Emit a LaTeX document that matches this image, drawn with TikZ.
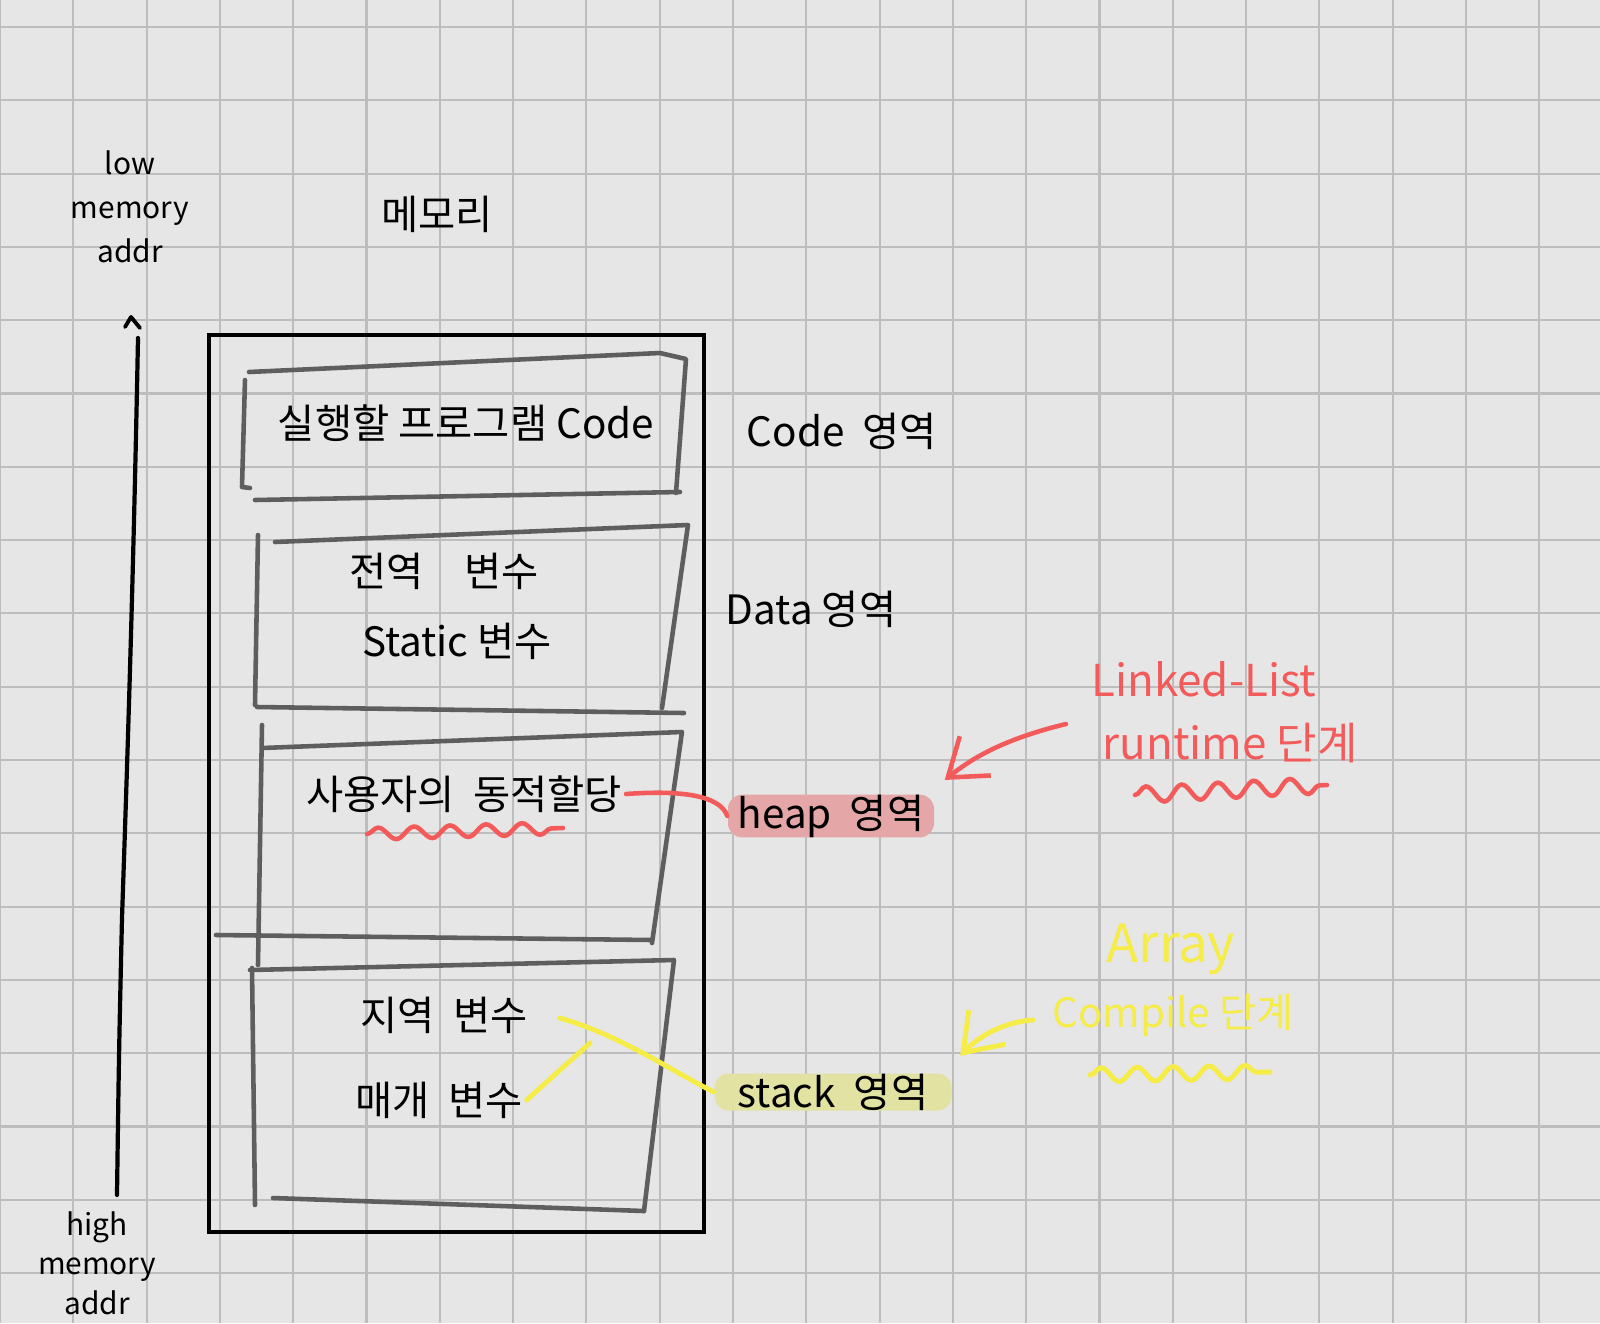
\documentclass[tikz,border=0pt]{standalone}
\usepackage{fontspec}
\setmainfont{Noto Sans CJK KR}
\usetikzlibrary{arrows.meta}
\usetikzlibrary{decorations.pathmorphing}
\definecolor{paper}{HTML}{E6E6E6}
\definecolor{gridgray}{HTML}{BDBDBD}
\definecolor{boxgray}{HTML}{5E5E5E}
\definecolor{pen red}{HTML}{F35B5B}
\definecolor{pen yellow}{HTML}{F6EC48}
\definecolor{heap mark}{HTML}{E4A6A6}
\definecolor{stack mark}{HTML}{E2E2A2}

\begin{document}
\begin{tikzpicture}[x=0.1mm, y=-0.1mm,
    gridline/.style = {gridgray, line width=0.6pt},
    region/.style = {boxgray, line width=1.3pt, line cap=round, line join=round},
    word/.style = {font=\fontsize{11.5}{14}\selectfont, inner sep=1pt},
    small/.style = {font=\fontsize{8.5}{12.5}\selectfont, align=center, inner sep=0pt},
    marker/.style = {word, fill=#1, rounded corners=4pt, minimum height=3.7mm, inner sep=0pt},
    redpen/.style = {pen red, line width=1.3pt, line cap=round},
    yellowpen/.style = {pen yellow, line width=1.4pt, line cap=round},
    wave/.style = {decorate, decoration={snake, amplitude=#1, segment length=3.6mm}}]

    % paper and grid
    \fill[paper] (0,0) rectangle (1600,1323);
    \useasboundingbox (0,0) rectangle (1600,1323);
    \foreach \i in {0,...,21}
    \draw[gridline] (\i*73.3,0) -- (\i*73.3,1323);
    \foreach \j in {0,...,17}
    \draw[gridline] (0,27+\j*73.3) -- (1600,27+\j*73.3);

    % address axis
    \node[small] (low) at (130,207) {low\\memory\\addr};
    \node[small, font=\fontsize{8.5}{11.3}\selectfont] (high) at (97,1263) {high\\memory\\addr};
    \draw[black, line width=1.2pt, line cap=round] (138,338) .. controls (133,600) and (126,800) .. (122,918) .. controls (119,1050) .. (117,1195);
    \draw[black, line width=1.1pt, line cap=round, line join=round] (125,327) -- (131,317) -- (140,328);

    % memory block
    \node[word] (memtitle) at (437,214) {메모리};
    \draw[black, line width=1.3pt] (209,335) rectangle (704,1232);

    % code region
    \draw[region] (249,372) -- (660,353) -- (686,359) -- (676,493);
    \draw[region] (255,500) -- (680,492);
    \draw[region] (245,380) -- (242,487) -- (250,488);
    \node[word] (code) at (466,423) {실행할 프로그램 Code};

    % data region
    \draw[region] (275,542) -- (688,525) -- (662,708);
    \draw[region] (257,707) -- (684,713);
    \draw[region] (258,535) -- (255,705);
    \node[word] (global) at (444,571) {전역\quad 변수};
    \node[word] (static) at (457,641) {Static 변수};

    % heap region
    \draw[region] (262,748) -- (682,732) -- (652,943);
    \draw[region] (216,935) -- (652,940);
    \draw[region] (262,725) -- (258,965);
    \node[word] (alloc) at (464,794) {사용자의\ \ 동적할당};
    \draw[redpen, wave=0.6mm] (367,834) -- (563,828);

    % stack region
    \draw[region] (250,970) -- (674,960) -- (644,1211);
    \draw[region] (273,1198) -- (644,1211);
    \draw[region] (252,968) -- (255,1205);
    \node[word] (local) at (444,1015) {지역\ \ 변수};
    \node[word] (param) at (439,1100) {매개\ \ 변수};

    % region labels
    \node[word] (codelbl) at (842,431) {Code\ \ 영역};
    \node[word] (datalbl) at (811,609) {Data 영역};
    \node[marker=heap mark, minimum width=20.6mm] (heap) at (831,816) {heap\ \ 영역\hspace{1mm}};
    \node[marker=stack mark, minimum width=23.7mm] (stack) at (833,1092) {stack\ \ 영역};

    % red notes
    \node[word, pen red, font=\fontsize{12.5}{15}\selectfont] (linked) at (1204,679) {Linked-List};
    \node[word, pen red, font=\fontsize{12.5}{15}\selectfont] (runtime) at (1230,743) {runtime 단계};
    \draw[redpen, wave=0.8mm] (1135,795) -- (1327,785);
    \coordinate (redtail) at (1066,724);
    \draw[redpen, -{Straight Barb[length=3.5mm, width=5mm]}] (redtail) .. controls (1000,740) and (970,760) .. ([shift={(10,-14)}]heap.north east);
    \draw[redpen] (alloc.east) .. controls (680,790) and (720,795) .. (heap.west);

    % yellow notes
    \node[word, pen yellow, font=\fontsize{15}{18}\selectfont] (array) at (1171,949) {Array};
    \node[word, pen yellow, font=\fontsize{11.5}{14}\selectfont] (compile) at (1173,1015) {Compile 단계};
    \draw[yellowpen, wave=0.7mm] (1090,1075) -- (1270,1072);
    \coordinate (yellowtail) at (1033,1020);
    \draw[yellowpen, -{Straight Barb[length=3.5mm, width=5mm]}] (yellowtail) .. controls (1000,1022) and (975,1040) .. ([shift={(8,-17)}]stack.north east);
    \coordinate (meet) at (590,1043);
    \draw[yellowpen] ([shift={(28,3)}]local.east) .. controls (620,1035) and (670,1070) .. (stack.west);
    \draw[yellowpen] (param.east) -- (meet);

\end{tikzpicture}
\end{document}
